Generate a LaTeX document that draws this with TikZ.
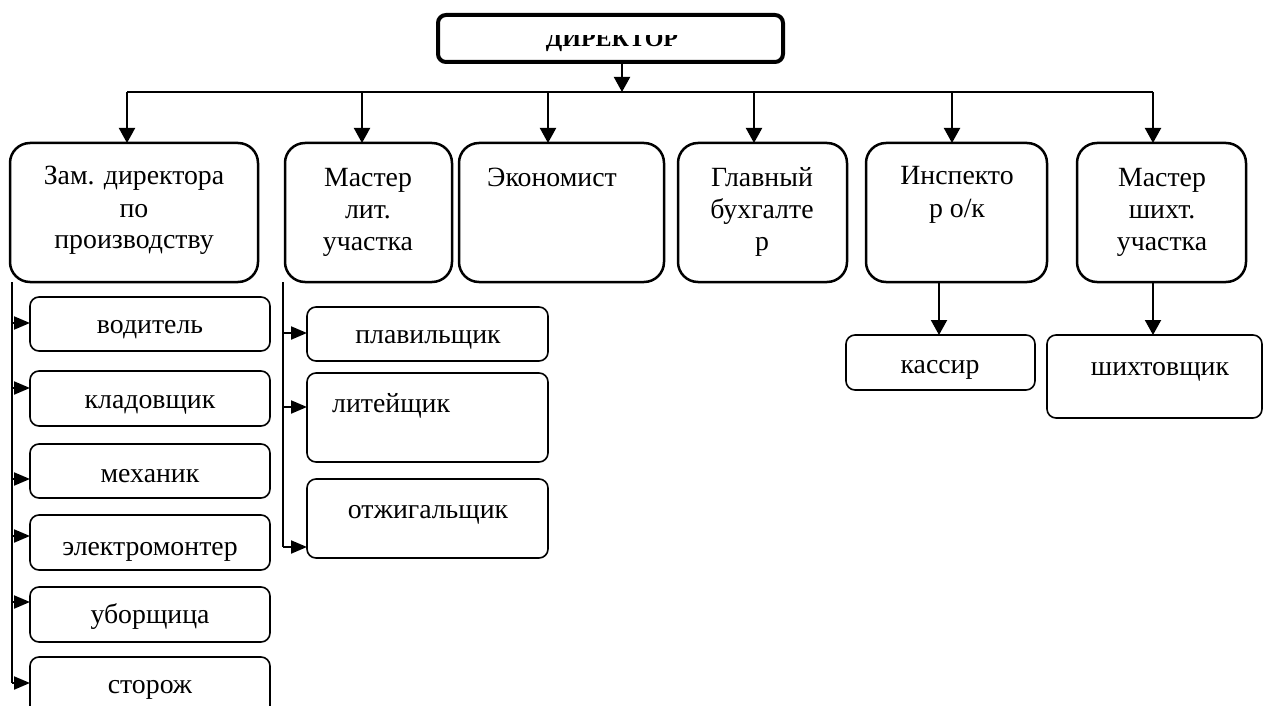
\documentclass[tikz,border=0pt]{standalone}
\usepackage{fontspec}
\setmainfont{Liberation Serif}
\usetikzlibrary{arrows.meta}
\tikzset{
  anybox/.style={draw, inner sep=0pt, outer sep=0pt, anchor=north west},
  mainbox/.style={anybox, line width=2.5pt, rounded corners=20pt},
  subbox/.style={anybox, line width=1.6pt, rounded corners=9pt},
  dirbox/.style={anybox, line width=4pt, rounded corners=8pt},
  txt/.style={inner sep=0pt, anchor=base, font=\fontsize{27.8}{32}\selectfont},
  conn/.style={line width=2pt},
  arr/.style={conn, -{Triangle[length=15pt,width=16pt]}},
  sarr/.style={conn, -{Triangle[length=16pt,width=13pt]}}
}
\begin{document}
\begin{tikzpicture}[x=1pt,y=-1pt]
\useasboundingbox (0,0) rectangle (1264,706);
% boxes
\node[dirbox, minimum width=345pt, minimum height=47pt] (dir) at (438,15) {};
\node[mainbox, minimum width=248pt, minimum height=139pt] (zam) at (10,143) {};
\node[mainbox, minimum width=167pt, minimum height=139pt] (mlit) at (285,143) {};
\node[mainbox, minimum width=205pt, minimum height=139pt] (econ) at (459,143) {};
\node[mainbox, minimum width=169pt, minimum height=139pt] (glav) at (678,143) {};
\node[mainbox, minimum width=181pt, minimum height=139pt] (insp) at (866,143) {};
\node[mainbox, minimum width=169pt, minimum height=139pt] (msh) at (1077,143) {};
\node[subbox, minimum width=240pt, minimum height=54pt] (vod) at (30,297) {};
\node[subbox, minimum width=240pt, minimum height=55pt] (klad) at (30,371) {};
\node[subbox, minimum width=240pt, minimum height=54pt] (mech) at (30,444) {};
\node[subbox, minimum width=240pt, minimum height=55pt] (elec) at (30,515) {};
\node[subbox, minimum width=240pt, minimum height=55pt] (ubor) at (30,587) {};
\node[subbox, minimum width=240pt, minimum height=70pt] (stor) at (30,657) {};
\node[subbox, minimum width=241pt, minimum height=54pt] (plav) at (307,307) {};
\node[subbox, minimum width=241pt, minimum height=89pt] (lit) at (307,373) {};
\node[subbox, minimum width=241pt, minimum height=79pt] (otzh) at (307,479) {};
\node[subbox, minimum width=189pt, minimum height=55pt] (kas) at (846,335) {};
\node[subbox, minimum width=215pt, minimum height=83pt] (shi) at (1047,335) {};
% texts
\begin{scope}
\clip (440,36) rectangle (781,60);
\node[inner sep=0pt, anchor=base, font=\bfseries\fontsize{24}{28}\selectfont] (dirt) at (612,47) {ДИРЕКТОР};
\end{scope}
\node[txt] (zam1) at (134,185) {Зам. директора};
\node[txt] (zam2) at (134,217) {по};
\node[txt] (zam3) at (134,248) {производству};
\node[txt] (mlit1) at (368,186) {Мастер};
\node[txt] (mlit2) at (368,218) {лит.};
\node[txt] (mlit3) at (368,250) {участка};
\node[txt] (econ1) at (552,186) {Экономист};
\node[txt] (glav1) at (762,186) {Главный};
\node[txt] (glav2) at (762,218) {бухгалте};
\node[txt] (glav3) at (762,250) {р};
\node[txt] (insp1) at (957,185) {Инспекто};
\node[txt] (insp2) at (957,217) {р о/к};
\node[txt] (msh1) at (1162,186) {Мастер};
\node[txt] (msh2) at (1162,218) {шихт.};
\node[txt] (msh3) at (1162,250) {участка};
\node[txt] (vodt) at (150,333) {водитель};
\node[txt] (kladt) at (150,408) {кладовщик};
\node[txt] (mecht) at (150,482) {механик};
\node[txt] (elect) at (150,555) {электромонтер};
\node[txt] (ubort) at (150,623) {уборщица};
\node[txt] (stort) at (150,693) {сторож};
\node[txt] (plavt) at (428,343) {плавильщик};
\node[txt, anchor=base west] (litt) at (332,412) {литейщик};
\node[txt] (otzht) at (428,518) {отжигальщик};
\node[txt] (kast) at (940,373) {кассир};
\node[txt] (shit) at (1160,375) {шихтовщик};
% bus
\coordinate (t0) at (622,92);
\coordinate (b1) at (127,92);
\coordinate (b2) at (362,92);
\coordinate (b3) at (548,92);
\coordinate (b4) at (754,92);
\coordinate (b5) at (952,92);
\coordinate (b6) at (1153,92);
\draw[arr] (t0 |- dir.south) -- (t0);
\draw[conn] (b1) -- (b6);
\draw[arr] (b1) -- (b1 |- zam.north);
\draw[arr] (b2) -- (b2 |- mlit.north);
\draw[arr] (b3) -- (b3 |- econ.north);
\draw[arr] (b4) -- (b4 |- glav.north);
\draw[arr] (b5) -- (b5 |- insp.north);
\draw[arr] (b6) -- (b6 |- msh.north);
% left spine
\coordinate (zs) at (12,282);
\coordinate (z1) at (12,323);
\coordinate (z2) at (12,388);
\coordinate (z3) at (12,479);
\coordinate (z4) at (12,536);
\coordinate (z5) at (12,602);
\coordinate (z6) at (12,683);
\draw[conn] (zs) -- (z6);
\draw[sarr] (z1) -- (z1 -| vod.west);
\draw[sarr] (z2) -- (z2 -| klad.west);
\draw[sarr] (z3) -- (z3 -| mech.west);
\draw[sarr] (z4) -- (z4 -| elec.west);
\draw[sarr] (z5) -- (z5 -| ubor.west);
\draw[sarr] (z6) -- (z6 -| stor.west);
% middle spine
\coordinate (ms) at (283,282);
\coordinate (m1) at (283,333);
\coordinate (m2) at (283,407);
\coordinate (m3) at (283,547);
\draw[conn] (ms) -- (m3);
\draw[sarr] (m1) -- (m1 -| plav.west);
\draw[sarr] (m2) -- (m2 -| lit.west);
\draw[sarr] (m3) -- (m3 -| otzh.west);
% right drops
\coordinate (i0) at (939,282);
\coordinate (s0) at (1153,282);
\draw[arr] (i0) -- (i0 |- kas.north);
\draw[arr] (s0) -- (s0 |- shi.north);
\end{tikzpicture}
\end{document}
